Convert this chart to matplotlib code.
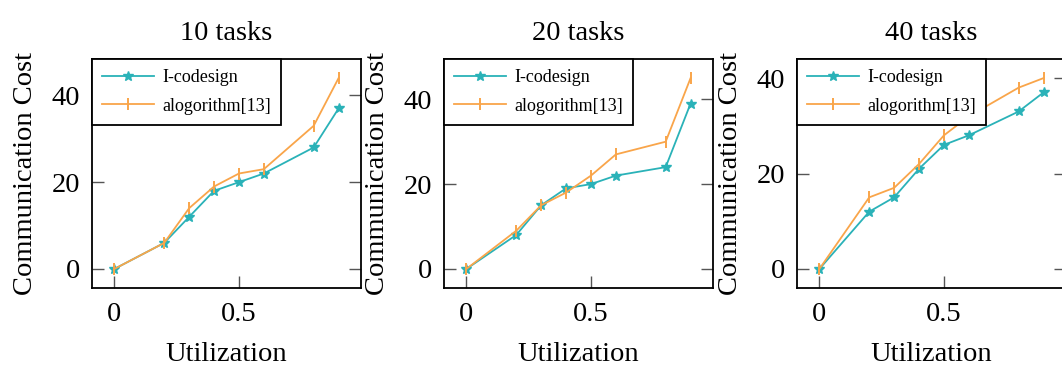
import matplotlib
matplotlib.use("Agg")
import matplotlib.pyplot as plt

plt.rcParams['font.family'] = ['Liberation Serif', 'DejaVu Serif']
plt.rcParams['mathtext.fontset'] = 'stix'

utilization = [0, 0.2, 0.3, 0.4, 0.5, 0.6, 0.8, 0.9]
titles = ["10 tasks", "20 tasks", "40 tasks"]
codesign = [
    [0, 6, 12, 18, 20, 22, 28, 37],
    [0, 8, 15, 19, 20, 22, 24, 39],
    [0, 12, 15, 21, 26, 28, 33, 37],
]
algorithm13 = [
    [0, 6, 14, 19, 22, 23, 33, 44],
    [0, 9, 15, 18, 22, 27, 30, 45],
    [0, 15, 17, 22, 28, 32, 38, 40],
]
series_names = ["I-codesign", "alogorithm[13]"]
xticks = [0, 0.5]
xticklabels = ["0", "0.5"]
yticks = [0, 20, 40]

TEAL = '#2ab2b8'
ORANGE = '#f9a54a'

W, H = 1062, 368
fig = plt.figure(figsize=(W / 100, H / 100), dpi=100)

lefts = [92, 444, 797]
ax_w, ax_top, ax_bot = 269, 59, 288

for i in range(3):
    ax = fig.add_axes([lefts[i] / W, (H - ax_bot) / H, ax_w / W, (ax_bot - ax_top) / H])
    ax.plot(utilization, codesign[i], color=TEAL, lw=1.3, marker='*', ms=7,
            label=series_names[0])
    ax.plot(utilization, algorithm13[i], color=ORANGE, lw=1.3, marker='|', ms=9,
            mew=1.4, label=series_names[1])
    ymax = max(max(codesign[i]), max(algorithm13[i]))
    ax.set_xlim(-0.09, 0.99)
    ax.set_ylim(-0.1 * ymax, 1.1 * ymax)
    ax.set_xticks(xticks)
    ax.set_xticklabels(xticklabels)
    ax.set_yticks(yticks)
    ax.tick_params(direction='in', top=True, right=True, length=8.5, width=1,
                   color='#555555', labelsize=20.5)
    ax.tick_params(axis='y', pad=8.5)
    ax.tick_params(axis='x', pad=10)
    for s in ax.spines.values():
        s.set_linewidth(1.3)
        s.set_color('black')
    ax.set_title(titles[i], fontsize=20.5, pad=14)
    ax.set_xlabel("Utilization", fontsize=20.5, labelpad=11)
    ax.set_ylabel("Communication Cost", fontsize=20.5, labelpad=10)
    leg = ax.legend(loc='upper left', bbox_to_anchor=(0, 1), borderaxespad=0,
                    fontsize=13, fancybox=False, framealpha=1, edgecolor='black',
                    handlelength=2.9, handletextpad=0.45, labelspacing=0.65,
                    borderpad=0.55)
    leg.get_frame().set_linewidth(1.3)
    leg.set_zorder(5)

fig.savefig("out.png", dpi=100)
